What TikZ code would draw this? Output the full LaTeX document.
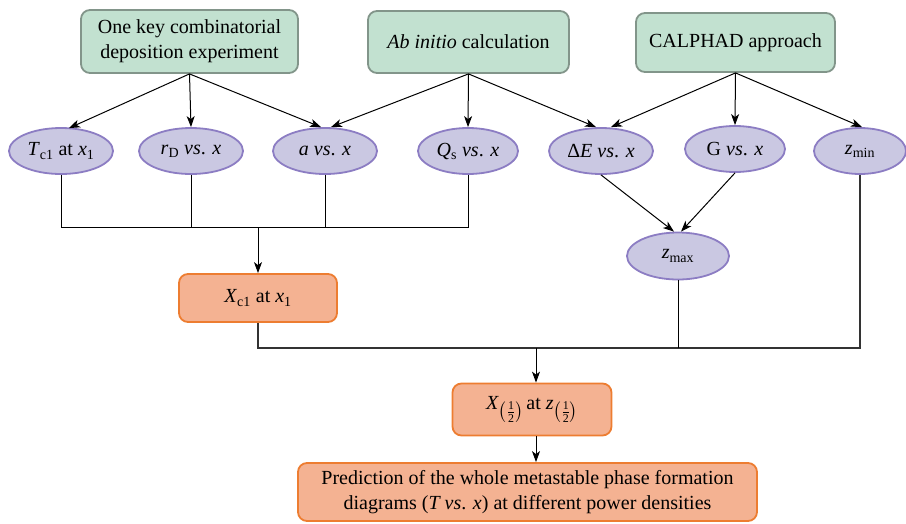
\documentclass[tikz,border=0pt]{standalone}
\usepackage{fontspec}
\setmainfont{Liberation Serif}
\usepackage{amsmath}
\usetikzlibrary{arrows.meta,shapes.geometric,calc}
\definecolor{gfill}{HTML}{C2E1D0}
\definecolor{gdraw}{HTML}{82958A}
\definecolor{pfill}{HTML}{CAC8E2}
\definecolor{pdraw}{HTML}{8C7DC3}
\definecolor{ofill}{HTML}{F4B292}
\definecolor{odraw}{HTML}{ED7D31}
\newcommand{\halfsub}{\raisebox{-7pt}{\fontsize{17}{17}\selectfont$\left(\frac{\text{1}}{\text{2}}\right)$}}
\begin{document}
\begin{tikzpicture}[x=1pt,y=-1pt,
  txt/.style={font=\fontsize{20}{25}\selectfont, align=center, inner sep=0pt},
  gbox/.style={txt, draw=gdraw, fill=gfill, line width=1.8pt, rounded corners=9pt},
  obox/.style={txt, draw=odraw, fill=ofill, line width=1.8pt, rounded corners=9pt},
  pell/.style={txt, ellipse, draw=pdraw, fill=pfill, line width=1.8pt, minimum height=46pt},
  conn/.style={line width=1pt, draw=black},
  bus/.style={line width=1.3pt, draw=black!80},
  arr/.style={conn, -{Stealth[length=11pt,width=8pt,inset=3pt]}}
]
\useasboundingbox (0,0) rectangle (906,523);
% top boxes
\node[gbox, minimum width=217pt, minimum height=63pt] (b1) at (189.5,41.5) {One key combinatorial\\deposition experiment};
\node[gbox, minimum width=201pt, minimum height=62pt] (b2) at (468.5,42) {\textit{Ab initio} calculation};
\node[gbox, minimum width=199pt, minimum height=59pt] (b3) at (735.5,42.5) {CALPHAD approach};
% ellipses
\node[pell, minimum width=104pt] (e1) at (61,151) {\textit{T}\textsubscript{c1} at \textit{x}\textsubscript{1}};
\node[pell, minimum width=104pt] (e2) at (191,151) {\textit{r}\textsubscript{D} \textit{vs}. \textit{x}};
\node[pell, minimum width=104pt] (e3) at (325,151) {\textit{a vs}. \textit{x}};
\node[pell, minimum width=100pt] (e4) at (468,151) {\textit{Q}\textsubscript{s} \textit{vs}. \textit{x}};
\node[pell, minimum width=104pt] (e5) at (601,151) {Δ\textit{E vs}. \textit{x}};
\node[pell, minimum width=100pt] (e6) at (735,149) {G \textit{vs}. \textit{x}};
\node[pell, minimum width=92pt] (e7) at (860,151) {\textit{z}\textsubscript{min}};
\node[pell, minimum width=102pt, minimum height=47pt] (zmax) at (678,256) {\textit{z}\textsubscript{max}};
% orange boxes
\node[obox, minimum width=158pt, minimum height=48pt] (xc1) at (258,298) {\textit{X}\textsubscript{c1} at \textit{x}\textsubscript{1}};
\node[obox, minimum width=159pt, minimum height=52pt] (xh) at (532,409.5) {\textit{X}\halfsub\,at \textit{z}\halfsub};
\node[obox, minimum width=459pt, minimum height=58pt] (fin) at (527.5,492) {Prediction of the whole metastable phase formation\\diagrams (\textit{T vs}. \textit{x}) at different power densities};
% arrows from top boxes
\draw[arr] (b1.south) -- ($(e1.north)+(8,1)$);
\draw[arr] (b1.south) -- (e2.north);
\draw[arr] (b1.south) -- ($(e3.north)+(-4,0)$);
\draw[arr] (b2.south) -- ($(e3.north)+(6,0)$);
\draw[arr] (b2.south) -- (e4.north);
\draw[arr] (b2.south) -- ($(e5.north)+(-5,0)$);
\draw[arr] (b3.south) -- ($(e5.north)+(10,0)$);
\draw[arr] (b3.south) -- (e6.north);
\draw[arr] (b3.south) -- ($(e7.north)+(2,0)$);
% to zmax
\draw[arr] (e5.south) -- ($(zmax.north)+(-4,0)$);
\draw[arr] (e6.south) -- ($(zmax.north)+(3,0)$);
% upper bus
\coordinate (j1) at (258,227);
\draw[conn] (e1.south) |- (j1);
\draw[conn] (e4.south) |- (j1);
\draw[conn] (e2.south) -- (e2.south |- j1);
\draw[conn] (e3.south) -- (e3.south |- j1);
\draw[arr] (j1) -- (xc1.north);
% lower bus
\coordinate (j2) at (536,348);
\draw[bus] (xc1.south) |- (j2);
\draw[bus] (e7.south) |- (j2);
\draw[conn] (zmax.south) -- (zmax.south |- j2);
\draw[arr] (j2) -- (j2 |- xh.north);
\draw[arr] (xh.south -| j2) -- (j2 |- fin.north);
\end{tikzpicture}
\end{document}
